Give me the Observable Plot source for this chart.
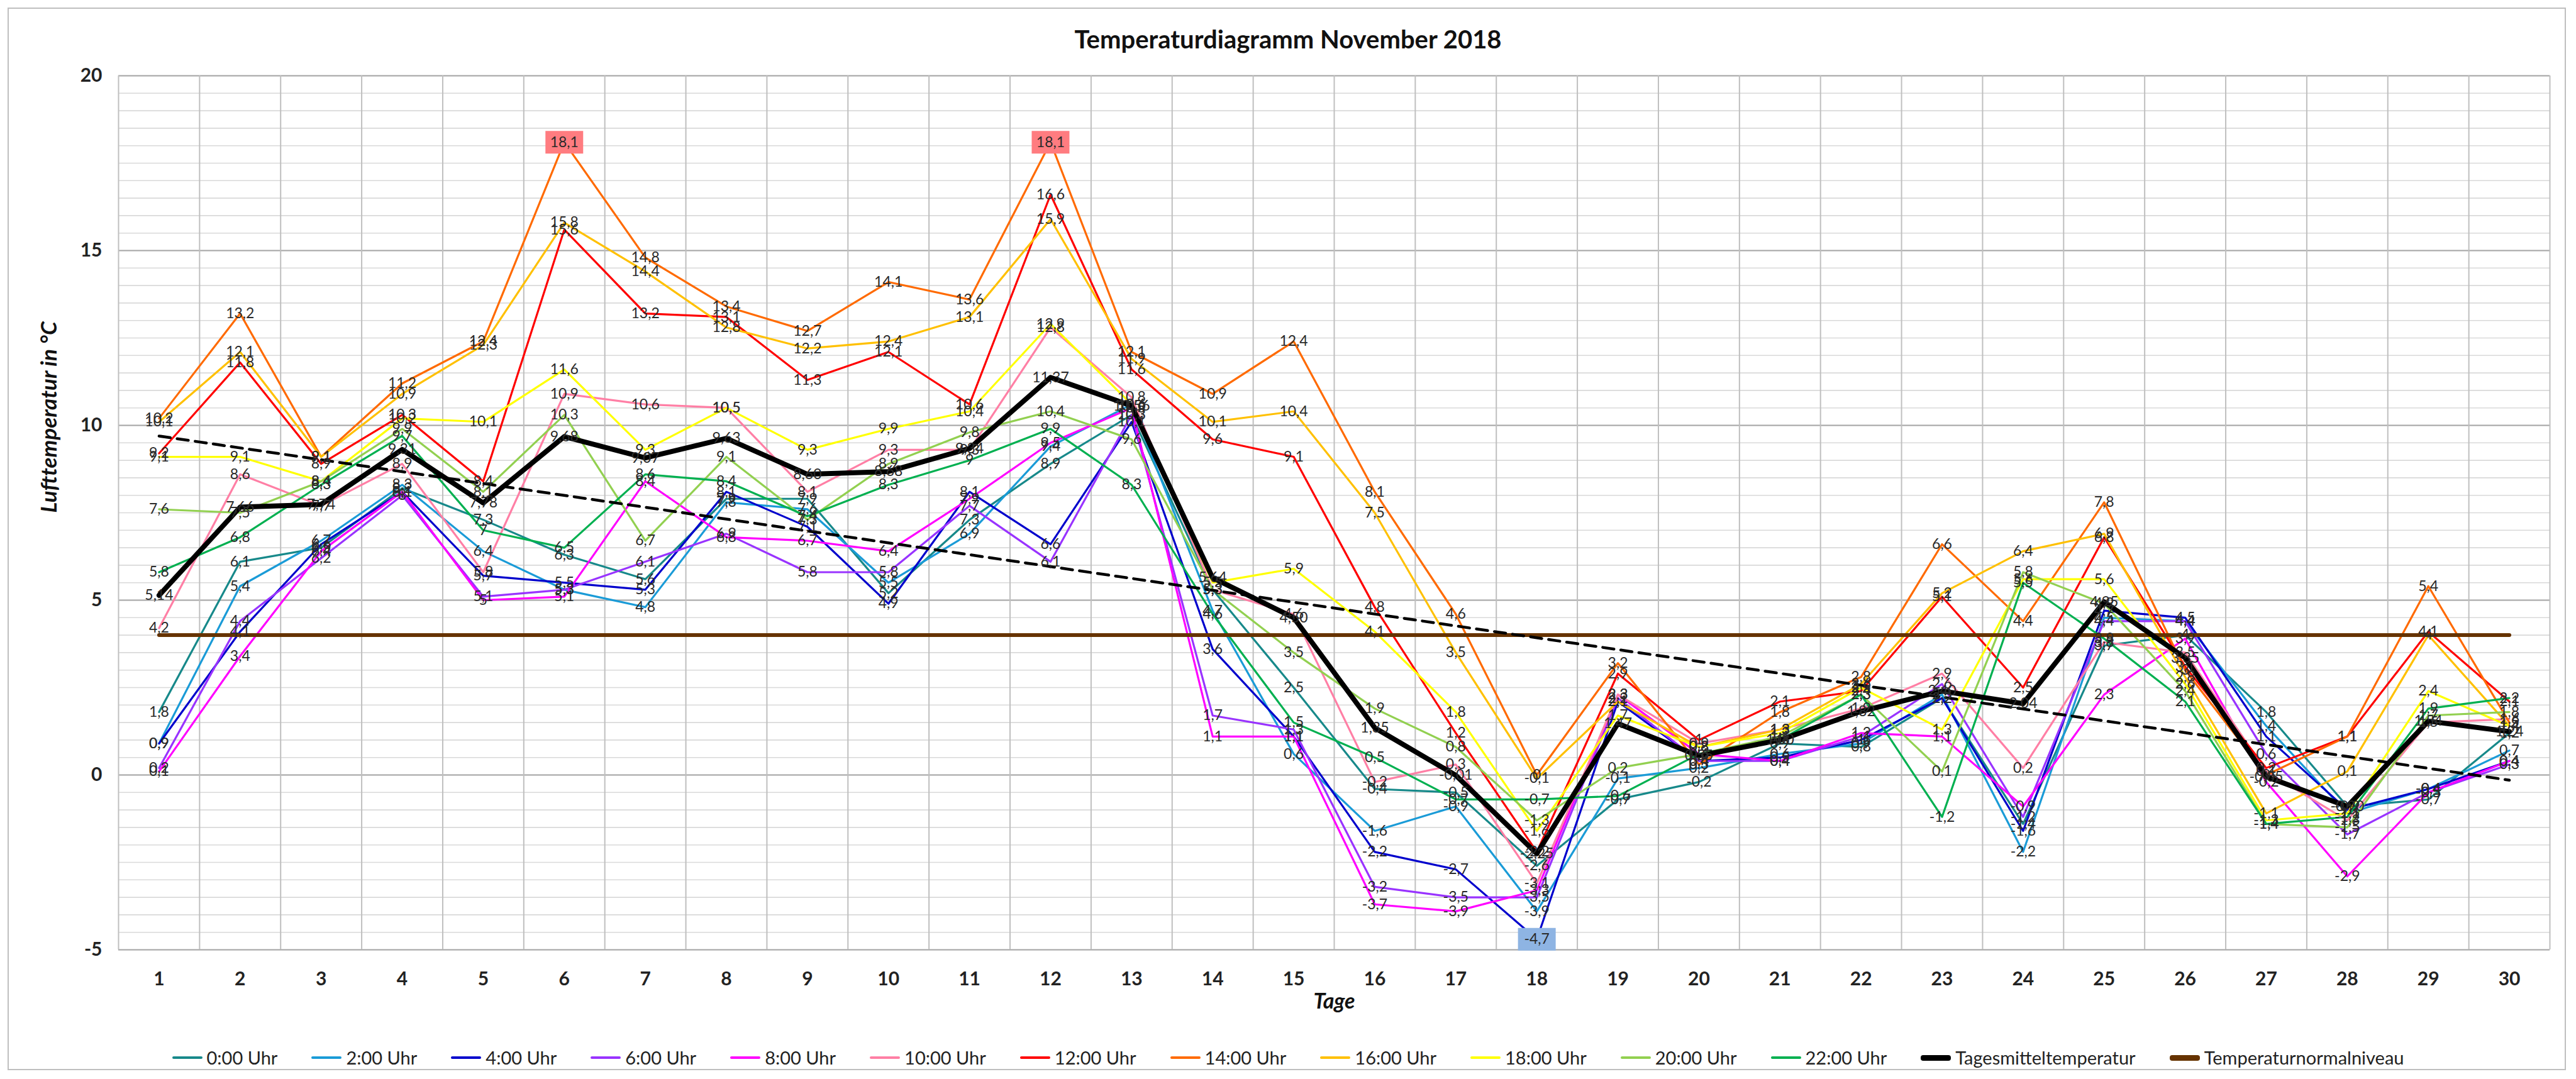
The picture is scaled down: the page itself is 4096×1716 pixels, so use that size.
<!DOCTYPE html>
<html><head><meta charset="utf-8">
<script src="https://cdn.jsdelivr.net/npm/d3@7"></script>
<script src="https://cdn.jsdelivr.net/npm/@observablehq/plot@0.6"></script>
<style>
html,body{margin:0;padding:0;background:#fff;}
#chart{position:relative;width:4096px;height:1716px;overflow:hidden;font-family:Lato,"Noto Sans",sans-serif;background:#fff;}
#border{position:absolute;left:12px;top:12px;width:4068px;height:1690px;border:2px solid #BFBFBF;box-sizing:border-box;}
#title{position:absolute;top:39px;left:0;width:100%;text-align:center;font-weight:bold;font-size:40px;line-height:46px;color:#111;}
#plot{position:absolute;left:0;top:90px;}
#legend{position:absolute;top:1664px;left:0;width:100%;display:flex;justify-content:center;align-items:center;gap:54px;font-size:29px;line-height:36px;color:#222;}
.item{display:flex;align-items:center;gap:7px;}
.sw{display:inline-block;width:48px;border-radius:4px;}
</style></head><body>
<div id="chart"><div id="border"></div><div id="title">Temperaturdiagramm November 2018</div><div id="plot"></div><div id="legend"></div></div>
<script>
const days = [1,2,3,4,5,6,7,8,9,10,11,12,13,14,15,16,17,18,19,20,21,22,23,24,25,26,27,28,29,30];
const seriesNames = ["0:00 Uhr","2:00 Uhr","4:00 Uhr","6:00 Uhr","8:00 Uhr","10:00 Uhr","12:00 Uhr","14:00 Uhr","16:00 Uhr","18:00 Uhr","20:00 Uhr","22:00 Uhr"];
const seriesColors = ["#17898A","#1A9BD7","#0000CC","#9933FF","#FF00FF","#FF7FA5","#FF0000","#FF6A00","#FFC000","#FFFF00","#92D050","#00B050"];
const t0000 = [1.8,6.1,6.5,8.2,7.3,6.3,5.6,7.9,7.9,5.2,7.3,8.9,10.3,5.3,2.5,-0.4,-0.5,-2.6,-0.7,-0.2,0.9,0.8,2.2,-1.4,3.7,4.0,1.8,-0.9,-0.7,1.2];
const t0200 = [0.9,5.4,6.7,8.3,6.4,5.3,4.8,7.8,7.6,5.5,6.9,9.4,10.6,4.7,0.6,-1.6,-0.9,-3.9,-0.1,0.2,0.6,0.9,2.3,-2.2,4.5,4.4,1.4,-1.1,-0.4,0.7];
const t0400 = [0.9,4.1,6.6,8.1,5.7,5.5,5.3,8.1,7.1,4.9,8.1,6.6,10.1,3.6,1.1,-2.2,-2.7,-4.7,2.1,0.4,0.5,1.0,2.2,-1.6,4.7,4.5,1.1,-1.0,-0.4,0.4];
const t0600 = [0.2,4.4,6.2,8.0,5.1,5.3,6.1,6.9,5.8,5.8,7.7,6.1,10.3,1.7,1.3,-3.2,-3.5,-3.5,2.2,0.4,0.4,1.1,2.6,-1.2,4.4,4.4,0.6,-1.7,-0.5,0.3];
const t0800 = [0.1,3.4,6.4,8.1,5.0,5.1,8.4,6.8,6.7,6.4,7.9,9.5,10.5,1.1,1.1,-3.7,-3.9,-3.3,2.3,0.6,0.4,1.2,1.1,-0.9,2.3,3.9,-0.2,-2.9,-0.5,0.4];
const t1000 = [4.2,8.6,7.7,8.9,5.8,10.9,10.6,10.5,8.1,9.3,9.3,12.8,10.8,5.3,4.6,-0.2,0.3,-3.1,2.3,0.9,1.3,1.9,2.9,0.2,3.8,3.5,0.1,-1.3,1.5,1.6];
const t1200 = [9.2,11.8,8.9,10.3,8.4,15.6,13.2,13.1,11.3,12.1,10.6,16.6,11.6,9.6,9.1,4.8,1.2,-2.2,2.9,1.0,2.1,2.4,5.1,2.5,6.8,3.1,0.2,1.1,4.1,2.1];
const t1400 = [10.2,13.2,9.1,11.2,12.4,18.1,14.8,13.4,12.7,14.1,13.6,18.1,12.1,10.9,12.4,8.1,4.6,0.0,3.2,0.3,1.8,2.8,6.6,4.4,7.8,3.0,0.0,1.1,5.4,1.5];
const t1600 = [10.1,12.1,9.1,10.9,12.3,15.8,14.4,12.8,12.2,12.4,13.1,15.9,11.9,10.1,10.4,7.5,3.5,-0.1,2.1,0.8,1.3,2.6,5.2,6.4,6.9,2.8,-1.1,0.1,4.0,1.4];
const t1800 = [9.1,9.1,8.4,10.2,10.1,11.6,9.3,10.5,9.3,9.9,10.4,12.9,10.6,5.5,5.9,4.1,1.8,-1.6,1.7,0.8,1.2,2.5,1.3,5.6,5.6,2.6,-1.3,-1.1,2.4,1.4];
const t2000 = [7.6,7.5,8.4,9.9,8.1,10.3,6.7,9.1,7.3,8.9,9.8,10.4,9.6,5.3,3.5,1.9,0.8,-1.3,0.2,0.6,1.1,2.3,0.1,5.8,4.9,2.4,-1.4,-1.5,1.7,1.8];
const t2200 = [5.8,6.8,8.3,9.7,7.0,6.5,8.6,8.4,7.4,8.3,9.0,9.9,8.3,4.6,1.5,0.5,-0.7,-0.7,-0.6,0.6,1.0,2.3,-1.2,5.5,3.9,2.1,-1.4,-1.2,1.9,2.2];
const dailyMean = [5.14,7.66,7.74,9.31,7.78,9.68,9.07,9.63,8.60,8.68,9.34,11.37,10.56,5.64,4.50,1.35,-0.01,-2.25,1.47,0.55,1.00,1.82,2.40,2.04,4.95,3.35,-0.05,-0.90,1.54,1.24];
const normalLevel = [4,4,4,4,4,4,4,4,4,4,4,4,4,4,4,4,4,4,4,4,4,4,4,4,4,4,4,4,4,4];
const yTicks = [-5,0,5,10,15,20];
const meanName = "Tagesmitteltemperatur";
const normalName = "Temperaturnormalniveau";
const meanColor = "#000000";
const normalColor = "#663300";

const seriesValues = [t0000,t0200,t0400,t0600,t0800,t1000,t1200,t1400,t1600,t1800,t2000,t2200];
const rows = seriesNames.flatMap((name, i) => seriesValues[i].map((v, j) => ({day: days[j], series: name, value: v})));
const meanRows = dailyMean.map((v, j) => ({day: days[j], value: v}));
const normalRows = normalLevel.map((v, j) => ({day: days[j], value: v}));
const vmax = d3.max(rows, d => d.value), vmin = d3.min(rows, d => d.value);
const maxRows = rows.filter(d => d.value === vmax);
const minRows = rows.filter(d => d.value === vmin);
const fmt1 = v => String(v).replace(".", ",");
const fmt2 = v => v.toFixed(2).replace(".", ",");
const boxSymbol = {draw(ctx) { ctx.moveTo(-30,-18); ctx.lineTo(30,-18); ctx.lineTo(30,18); ctx.lineTo(-30,18); ctx.closePath(); }};
const minorY = d3.range(-5, 20.001, 0.5);
const gridXv = days.map(d => d - 0.5).concat([days[days.length - 1] + 0.5]);

const chart = Plot.plot({
  width: 4096, height: 1530,
  marginLeft: 188, marginRight: 42, marginTop: 30, marginBottom: 110,
  x: {domain: [0.5, 30.5]},
  y: {domain: [-5, 20]},
  color: {domain: seriesNames, range: seriesColors},
  style: {fontFamily: "Lato, sans-serif", background: "transparent", color: "#222"},
  marks: [
    Plot.gridY(minorY, {stroke: "#D9D9D9", strokeOpacity: 1, strokeWidth: 1.6}),
    Plot.gridY(yTicks, {stroke: "#A6A6A6", strokeOpacity: 1, strokeWidth: 2}),
    Plot.gridX(gridXv, {stroke: "#BFBFBF", strokeOpacity: 1, strokeWidth: 2}),
    Plot.axisY(yTicks, {tickSize: 0, tickPadding: 26, fontSize: 30, fontWeight: "bold", tickFormat: d => String(d), label: null}),
    Plot.axisX(days, {tickSize: 0, tickPadding: 35, fontSize: 30, fontWeight: "bold", tickFormat: d => String(d), label: null}),
    Plot.text(["Lufttemperatur in °C"], {frameAnchor: "left", dx: -110, rotate: -90, fontSize: 35, fontWeight: "bold", fontStyle: "italic", fill: "#111"}),
    Plot.text(["Tage"], {frameAnchor: "bottom", dy: 93, fontSize: 34, fontWeight: "bold", fontStyle: "italic", fill: "#111"}),
    Plot.line(rows, {x: "day", y: "value", z: "series", stroke: "series", strokeWidth: 3.2, strokeLinejoin: "round", strokeLinecap: "round"}),
    Plot.line(normalRows, {x: "day", y: "value", stroke: normalColor, strokeWidth: 6, strokeLinecap: "round"}),
    Plot.line(meanRows, {x: "day", y: "value", stroke: meanColor, strokeWidth: 8, strokeLinejoin: "round", strokeLinecap: "round"}),
    Plot.linearRegressionY(meanRows, {x: "day", y: "value", stroke: "#000", strokeWidth: 4.5, strokeDasharray: "18,11", ci: 0}),
    Plot.dot(maxRows, {x: "day", y: "value", symbol: boxSymbol, fill: "#FF7C80", stroke: null}),
    Plot.dot(minRows, {x: "day", y: "value", symbol: boxSymbol, fill: "#8EB4E3", stroke: null}),
    Plot.text(rows, {x: "day", y: "value", text: d => fmt1(d.value), fontSize: 23, fill: "#2a2a2a"}),
    Plot.text(meanRows, {x: "day", y: "value", text: d => fmt2(d.value), fontSize: 23, fill: "#2a2a2a"})
  ]
});
document.getElementById("plot").appendChild(chart);

const legend = document.getElementById("legend");
const legendItems = seriesNames.map((n, i) => ({name: n, color: seriesColors[i], h: 4}))
  .concat([{name: meanName, color: meanColor, h: 9}, {name: normalName, color: normalColor, h: 9}]);
for (const it of legendItems) {
  const el = document.createElement("div");
  el.className = "item";
  const sw = document.createElement("span");
  sw.className = "sw";
  sw.style.background = it.color;
  sw.style.height = it.h + "px";
  const tx = document.createElement("span");
  tx.textContent = it.name;
  el.appendChild(sw); el.appendChild(tx);
  legend.appendChild(el);
}
</script>
</body></html>
